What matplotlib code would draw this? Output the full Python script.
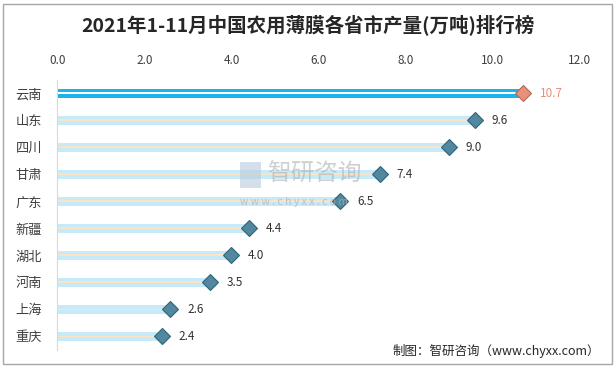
import numpy as np
import matplotlib
matplotlib.use("Agg")
from matplotlib import pyplot as plt
from matplotlib.patches import Rectangle

plt.rcParams["font.family"] = ["Noto Sans CJK SC", "DejaVu Sans"]

provinces = ["云南", "山东", "四川", "甘肃", "广东", "新疆", "湖北", "河南", "上海", "重庆"]
output = [10.7, 9.6, 9.0, 7.4, 6.5, 4.4, 4.0, 3.5, 2.6, 2.4]
x_ticks = [0.0, 2.0, 4.0, 6.0, 8.0, 10.0, 12.0]

title = "2021年1-11月中国农用薄膜各省市产量(万吨)排行榜"
source = "制图：智研咨询（www.chyxx.com）"

fig = plt.figure(figsize=(6.15, 3.68), dpi=100)
ax = fig.add_axes([0.093, 0.049, 0.85, 0.734])

y = np.arange(len(provinces))
top = y == 0
vals = np.array(output)

# light bars with a thin orange centre line
ax.barh(y[~top], vals[~top], height=0.32, color="#C7EAF8", zorder=1)
ax.barh(y[~top], vals[~top], height=0.07, color="#FBE3C6", zorder=2)
# first place: strong blue with a white centre line
ax.barh(y[top], vals[top], height=0.34, color="#1BB3EA", zorder=1)
ax.barh(y[top], vals[top], height=0.07, color="white", zorder=2)

for yi, v in zip(y, output):
    first = yi == 0
    ax.plot(v, yi, marker="D", markersize=8,
            color="#E8907A" if first else "#52889F",
            markeredgecolor="#B06A58" if first else "#2F6379",
            markeredgewidth=0.8, zorder=3)
    ax.text(v + 0.38, yi, f"{v:.1f}", va="center", ha="left", fontsize=8.5,
            color="#E8907A" if first else "#333333")

ax.set_xlim(0, 12)
ax.set_ylim(len(provinces) - 0.5, -0.5)
ax.set_xticks(x_ticks)
ax.set_xticklabels([f"{t:.1f}" for t in x_ticks], fontsize=8.5, color="#404040")
ax.xaxis.tick_top()
ax.tick_params(axis="x", length=0, pad=9)
ax.set_yticks(y)
ax.set_yticklabels(provinces, fontsize=9.5, color="#404040")
ax.tick_params(axis="y", length=0, pad=11)
for side in ["top", "right", "bottom"]:
    ax.spines[side].set_visible(False)
ax.spines["left"].set_color("#D9D9D9")

fig.text(0.5, 0.93, title, ha="center", va="center", fontsize=14,
         fontweight="bold", color="#262626")
fig.text(0.975, 0.045, source, ha="right", va="center", fontsize=9,
         color="#262626")

# watermark
fig.patches.append(Rectangle((0.39, 0.49), 0.035, 0.07, transform=fig.transFigure,
                             facecolor="#B9CADB", edgecolor="none", alpha=0.6))
fig.text(0.435, 0.525, "智研咨询", ha="left", va="center", fontsize=17,
         color="#B0B0B0", alpha=0.6)
fig.text(0.39, 0.45, "w w w . c h y x x . c o m", ha="left", va="center",
         fontsize=7.5, color="#B0B0B0", alpha=0.7)

fig.patches.append(Rectangle((0.005, 0.01), 0.99, 0.98, transform=fig.transFigure,
                             fill=False, edgecolor="#A6A6A6", linewidth=1))

fig.savefig("out.png", dpi=100)
